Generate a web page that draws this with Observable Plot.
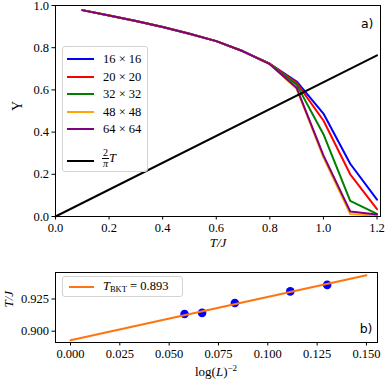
<!DOCTYPE html>
<html><head><meta charset="utf-8">
<script src="https://cdn.jsdelivr.net/npm/d3@7"></script>
<script src="https://cdn.jsdelivr.net/npm/@observablehq/plot@0.6"></script>
<style>
body{margin:0;background:#fff;}
#wrap{position:relative;width:385px;height:381px;font-family:serif;color:#000;overflow:hidden}
#wrap svg{display:block;font-family:serif}
.leg{position:absolute;border:1px solid #d3d3d3;border-radius:3px;background:rgba(255,255,255,0.8);box-sizing:border-box}
.sw{position:absolute;height:2px}
.lt{position:absolute;font-size:12.5px;line-height:14px;white-space:nowrap;font-family:serif}
.frac{display:inline-block;vertical-align:middle;text-align:center;font-size:10px;line-height:10px}
.frac span{display:block}
.frac .num{border-bottom:1px solid #000;padding:0 1px}
</style></head><body><div id="wrap"></div>
<script>
// ---- panel a) data ----
const temps = [0.1,0.2,0.3,0.4,0.5,0.6,0.7,0.8,0.9,1.0,1.1,1.2];
const sizeLabels = ["16 × 16","20 × 20","32 × 32","48 × 48","64 × 64"];
const sizeColors = ["blue","red","green","orange","purple"];
const upsilon16 = [0.978,0.953,0.927,0.898,0.866,0.831,0.783,0.724,0.640,0.488,0.250,0.080];
const upsilon20 = [0.978,0.953,0.927,0.898,0.866,0.831,0.783,0.724,0.633,0.455,0.200,0.035];
const upsilon32 = [0.978,0.953,0.927,0.898,0.866,0.831,0.783,0.723,0.625,0.390,0.074,0.012];
const upsilon48 = [0.978,0.953,0.927,0.898,0.866,0.831,0.783,0.722,0.605,0.280,0.012,0.003];
const upsilon64 = [0.978,0.953,0.927,0.898,0.866,0.831,0.783,0.722,0.610,0.290,0.024,0.010];
const lineT = [0, 1.2];
const lineY = [0, 0.764];
const xTicksA = [0,0.2,0.4,0.6,0.8,1.0,1.2];
const yTicksA = [0,0.2,0.4,0.6,0.8,1.0];

// ---- panel b) data ----
const invLog2L = [0.1301,0.1114,0.0833,0.0667,0.0578];
const tBKTL = [0.9360,0.9309,0.9219,0.9142,0.9134];
const fitX = [0, 0.15];
const fitY = [0.893, 0.9435];
const fitLabel = "0.893";
const xTicksB = [0,0.025,0.05,0.075,0.1,0.125,0.15];
const yTicksB = [0.900,0.925];

const fitColor = "#ff7410";
const serif = 'serif';
const wrap = document.getElementById("wrap");

const seriesVals = [upsilon16,upsilon20,upsilon32,upsilon48,upsilon64];

const plotA = Plot.plot({
  width:385, height:250, marginLeft:55, marginRight:5, marginTop:5, marginBottom:34,
  style:{fontFamily:serif, fontSize:"12.5px", color:"#000", background:"transparent", overflow:"visible"},
  x:{domain:[0,1.213]}, y:{domain:[0,1]},
  marks:[
    ...seriesVals.map((vals,i)=>Plot.line(temps.map((t,j)=>({t, v:vals[j]})), {x:"t", y:"v", stroke:sizeColors[i], strokeWidth:2})),
    Plot.line(lineT.map((t,j)=>({t, v:lineY[j]})), {x:"t", y:"v", stroke:"black", strokeWidth:2}),
    Plot.frame({stroke:"black", strokeWidth:1}),
    Plot.axisX({ticks:xTicksA, tickSize:3.5, tickPadding:3, tickFormat:d3.format(".1f"), label:null, fontFamily:serif}),
    Plot.axisY({ticks:yTicksA, tickSize:3.5, tickPadding:3, tickFormat:d3.format(".1f"), label:null, fontFamily:serif}),
    Plot.text(["T/J"], {frameAnchor:"bottom", dy:30, fontStyle:"italic", fontSize:13, fontFamily:serif}),
    Plot.text(["Υ"], {frameAnchor:"left", dx:-38, rotate:-90, fontSize:14, fontFamily:serif}),
    Plot.text(["a)"], {frameAnchor:"top-right", dx:-7, dy:14, textAnchor:"end", fontFamily:"DejaVu Sans", fontSize:12.5})
  ]
});
wrap.appendChild(plotA);

const plotB = Plot.plot({
  width:385, height:131, marginLeft:55, marginRight:8, marginTop:22, marginBottom:39,
  style:{fontFamily:serif, fontSize:"12.5px", color:"#000", background:"transparent", overflow:"visible"},
  x:{domain:[-0.0076,0.1556]}, y:{domain:[0.8912,0.9456]},
  marks:[
    Plot.dot(invLog2L.map((x,j)=>({x, y:tBKTL[j]})), {x:"x", y:"y", r:4.3, fill:"blue", stroke:"none"}),
    Plot.line(fitX.map((x,j)=>({x, y:fitY[j]})), {x:"x", y:"y", stroke:fitColor, strokeWidth:2}),
    Plot.frame({stroke:"black", strokeWidth:1}),
    Plot.axisX({ticks:xTicksB, tickSize:3.5, tickPadding:3, tickFormat:d3.format(".3f"), label:null, fontFamily:serif}),
    Plot.axisY({ticks:yTicksB, tickSize:3.5, tickPadding:3, tickFormat:d3.format(".3f"), label:null, fontFamily:serif}),
    Plot.text(["T/J"], {frameAnchor:"left", dx:-47, rotate:-90, fontStyle:"italic", fontSize:13, fontFamily:serif}),
    Plot.text(["b)"], {frameAnchor:"bottom-right", dx:-5, dy:-10, textAnchor:"end", fontFamily:"DejaVu Sans", fontSize:12.5})
  ]
});
wrap.appendChild(plotB);

// bottom x label with superscript
const xl = document.createElement("div");
xl.className = "lt";
xl.style.left = "0px"; xl.style.width = "432px"; xl.style.textAlign = "center";
xl.style.top = "361px"; xl.style.fontSize = "13px";
xl.innerHTML = 'log(<i>L</i>)<sup style="font-size:9px;vertical-align:5px">−2</sup>';
wrap.appendChild(xl);

// legend a)
const legA = document.createElement("div");
legA.className = "leg";
Object.assign(legA.style, {left:"62px", top:"46px", width:"86px", height:"126px"});
const rowY = [12, 29.5, 47, 64.5, 82];
sizeLabels.forEach((lab,i)=>{
  const s = document.createElement("div"); s.className="sw";
  Object.assign(s.style,{left:"4px", width:"27px", top:(rowY[i]-1)+"px", background:sizeColors[i]});
  legA.appendChild(s);
  const t = document.createElement("div"); t.className="lt";
  Object.assign(t.style,{left:"40px", top:(rowY[i]-7)+"px"});
  t.textContent = lab;
  legA.appendChild(t);
});
{
  const s = document.createElement("div"); s.className="sw";
  Object.assign(s.style,{left:"4px", width:"27px", top:"113px", background:"black"});
  legA.appendChild(s);
  const t = document.createElement("div"); t.className="lt";
  Object.assign(t.style,{left:"39px", top:"98px", lineHeight:"24px"});
  t.innerHTML = '<span class="frac"><span class="num">2</span><span><i>π</i></span></span><i style="vertical-align:middle;font-size:12.5px">T</i>';
  legA.appendChild(t);
}
wrap.appendChild(legA);

// legend b)
const legB = document.createElement("div");
legB.className = "leg";
Object.assign(legB.style, {left:"62px", top:"276px", width:"121px", height:"21px"});
{
  const s = document.createElement("div"); s.className="sw";
  Object.assign(s.style,{left:"6px", width:"25px", top:"9px", background:fitColor});
  legB.appendChild(s);
  const t = document.createElement("div"); t.className="lt";
  Object.assign(t.style,{left:"40px", top:"2px"});
  t.innerHTML = '<i>T</i><span style="font-size:8.5px;position:relative;top:2px">BKT</span> = ' + fitLabel;
  legB.appendChild(t);
}
wrap.appendChild(legB);
</script>
</body></html>
